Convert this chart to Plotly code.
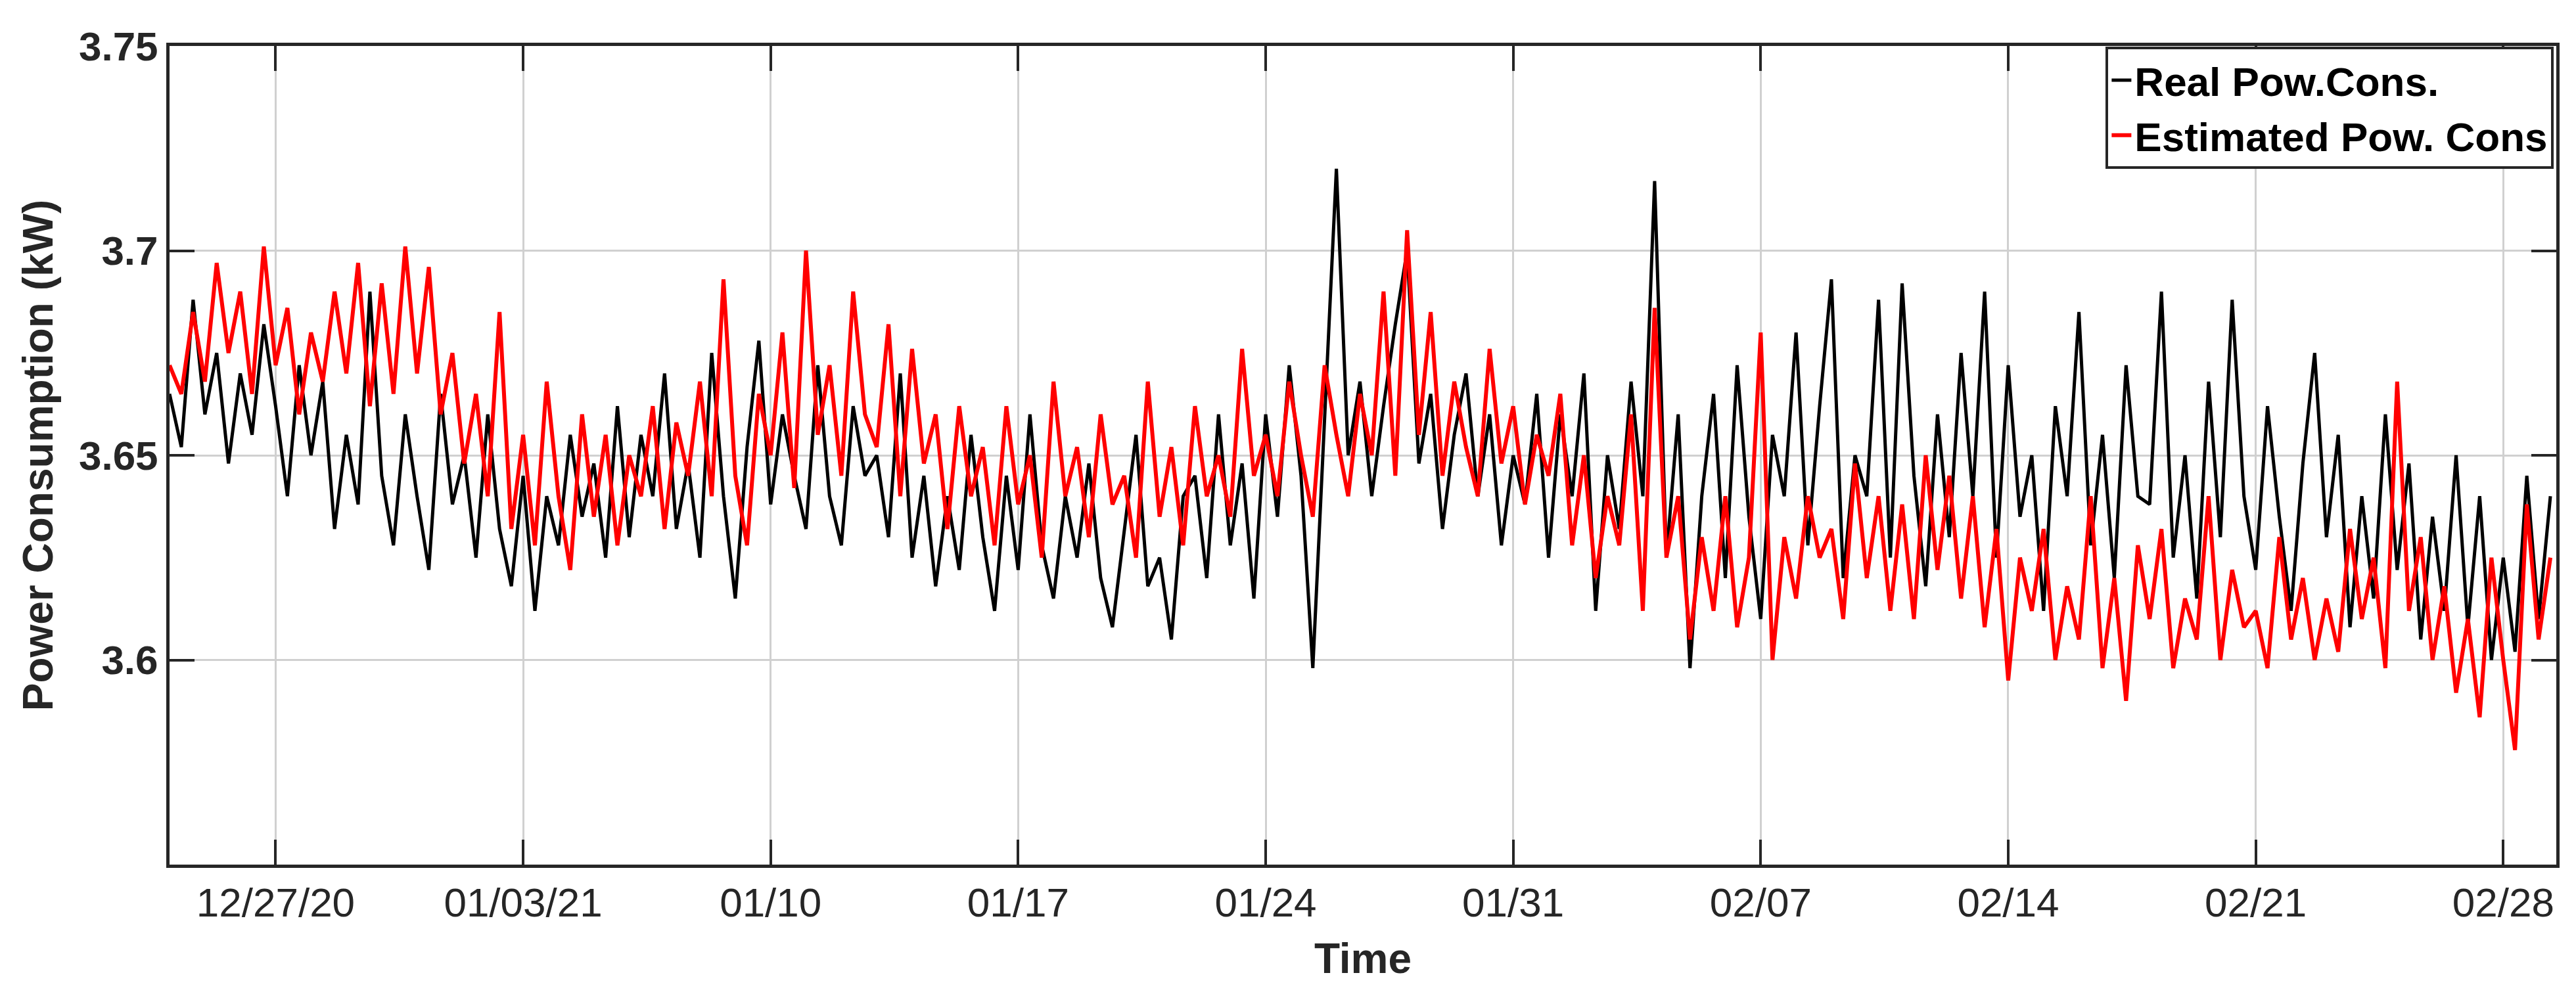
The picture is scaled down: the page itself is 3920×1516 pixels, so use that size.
import pandas as pd
import plotly.graph_objects as go

real = [
3.665,3.652,3.688, 3.660,3.675,3.648, 3.670,3.655,3.682, 3.662,3.640,3.672,
3.650,3.668,3.632, 3.655,3.638,3.690, 3.645,3.628,3.660, 3.640,3.622,3.665,
3.638,3.650,3.625, 3.660,3.632,3.618, 3.645,3.612,3.640, 3.628,3.655,3.635,
3.648,3.625,3.662, 3.630,3.655,3.640, 3.670,3.632,3.648, 3.625,3.675,3.640,
3.615,3.652,3.678, 3.638,3.660,3.645, 3.632,3.672,3.640, 3.628,3.662,3.645,
3.650,3.630,3.670, 3.625,3.645,3.618, 3.640,3.622,3.655, 3.630,3.612,3.645,
3.622,3.660,3.628, 3.615,3.640,3.625, 3.648,3.620,3.608, 3.632,3.655,3.618,
3.625,3.605,3.640, 3.645,3.620,3.660, 3.628,3.648,3.615, 3.660,3.635,3.672,
3.645,3.598,3.660, 3.720,3.650,3.668, 3.640,3.662,3.682, 3.700,3.648,3.665,
3.632,3.655,3.670, 3.640,3.660,3.628, 3.650,3.638,3.665, 3.625,3.660,3.640,
3.670,3.612,3.650, 3.632,3.668,3.640, 3.717,3.625,3.660, 3.598,3.640,3.665,
3.620,3.672,3.635, 3.610,3.655,3.640, 3.680,3.628,3.662, 3.693,3.620,3.650,
3.640,3.688,3.625, 3.692,3.645,3.618, 3.660,3.630,3.675, 3.640,3.690,3.625,
3.672,3.635,3.650, 3.612,3.662,3.640, 3.685,3.628,3.655, 3.620,3.672,3.640,
3.638,3.690,3.625, 3.650,3.615,3.668, 3.630,3.688,3.640, 3.622,3.662,3.635,
3.612,3.648,3.675, 3.630,3.655,3.608, 3.640,3.615,3.660, 3.622,3.648,3.605,
3.635,3.612,3.650, 3.608,3.640,3.600, 3.625,3.602,3.645, 3.610,3.640]

estimated = [
3.672,3.665,3.685, 3.668,3.697,3.675, 3.690,3.665,3.701, 3.672,3.686,3.660,
3.680,3.668,3.690, 3.670,3.697,3.662, 3.692,3.665,3.701, 3.670,3.696,3.660,
3.675,3.648,3.665, 3.640,3.685,3.632, 3.655,3.628,3.668, 3.640,3.622,3.660,
3.635,3.655,3.628, 3.650,3.640,3.662, 3.632,3.658,3.645, 3.668,3.640,3.693,
3.645,3.628,3.665, 3.650,3.680,3.642, 3.700,3.655,3.672, 3.645,3.690,3.660,
3.652,3.682,3.640, 3.676,3.648,3.660, 3.632,3.662,3.640, 3.652,3.628,3.662,
3.638,3.650,3.625, 3.668,3.640,3.652, 3.630,3.660,3.638, 3.645,3.625,3.668,
3.635,3.652,3.628, 3.662,3.640,3.650, 3.635,3.676,3.645, 3.655,3.640,3.668,
3.650,3.635,3.672, 3.655,3.640,3.665, 3.650,3.690,3.645, 3.705,3.655,3.685,
3.645,3.668,3.652, 3.640,3.676,3.648, 3.662,3.638,3.655, 3.645,3.665,3.628,
3.650,3.620,3.640, 3.628,3.660,3.612, 3.686,3.625,3.640, 3.605,3.630,3.612,
3.640,3.608,3.625, 3.680,3.600,3.630, 3.615,3.640,3.625, 3.632,3.610,3.648,
3.620,3.640,3.612, 3.638,3.610,3.650, 3.622,3.645,3.615, 3.640,3.608,3.632,
3.595,3.625,3.612, 3.632,3.600,3.618, 3.605,3.640,3.598, 3.620,3.590,3.628,
3.610,3.632,3.598, 3.615,3.605,3.640, 3.600,3.622,3.608, 3.612,3.598,3.630,
3.605,3.620,3.600, 3.615,3.602,3.632, 3.610,3.625,3.598, 3.668,3.612,3.630,
3.600,3.618,3.592, 3.610,3.586,3.625, 3.600,3.578,3.638, 3.605,3.625]

times = pd.date_range("2020-12-24 00:00", periods=len(real), freq="8h")

tick_vals = ["2020-12-27", "2021-01-03", "2021-01-10", "2021-01-17", "2021-01-24",
             "2021-01-31", "2021-02-07", "2021-02-14", "2021-02-21", "2021-02-28"]
tick_text = ["12/27/20", "01/03/21", "01/10", "01/17", "01/24",
             "01/31", "02/07", "02/14", "02/21", "02/28"]
y_ticks = [3.6, 3.65, 3.7, 3.75]

FONT = "Liberation Sans Narrow, Arial Narrow, Liberation Sans, Arial"

fig = go.Figure()
fig.add_trace(go.Scatter(x=times, y=real, mode="lines", name="<b>Real Pow.Cons.</b>",
                         line=dict(color="black", width=5)))
fig.add_trace(go.Scatter(x=times, y=estimated, mode="lines", name="<b>Estimated Pow. Cons</b>",
                         line=dict(color="#ff0000", width=6)))

axis_common = dict(showline=True, linecolor="#262626", linewidth=5, mirror="ticks",
                   ticks="inside", ticklen=38, tickwidth=4, tickcolor="#262626",
                   showgrid=True, gridcolor="#d0d0d0", gridwidth=3, zeroline=False,
                   tickfont=dict(family=FONT, size=62, color="#262626"))

fig.update_layout(
    width=3920, height=1516,
    margin=dict(l=250, r=38, t=62, b=208),
    plot_bgcolor="white", paper_bgcolor="white",
    font=dict(family=FONT, color="#262626"),
    legend=dict(x=0.999, y=0.999, xanchor="right", yanchor="top",
                bgcolor="white", bordercolor="#262626", borderwidth=4,
                font=dict(family=FONT, size=62, color="black"),
                tracegroupgap=0),
    showlegend=True,
)
fig.update_xaxes(range=["2020-12-24 00:00", "2021-03-01 12:00"],
                 tickvals=tick_vals, ticktext=tick_text,
                 title=dict(text="<b>Time</b>", font=dict(family=FONT, size=64, color="#262626"), standoff=30),
                 tickprefix="<b>", ticksuffix="</b>", **axis_common)
fig.update_yaxes(range=[3.55, 3.75], tickvals=y_ticks,
                 ticktext=["<b>3.6</b>", "<b>3.65</b>", "<b>3.7</b>", "<b>3.75</b>"],
                 title=dict(text="<b>Power Consumption (kW)</b>", font=dict(family=FONT, size=64, color="#262626"), standoff=20),
                 **axis_common)

fig.write_html("out.html")
